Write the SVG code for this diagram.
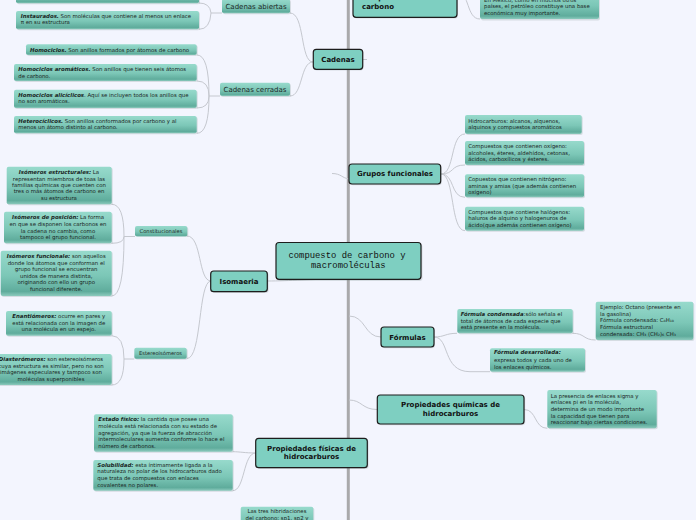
<svg xmlns="http://www.w3.org/2000/svg" width="696" height="520" viewBox="0 0 696 520">
<defs>
<linearGradient id="lg" x1="0" y1="0" x2="0" y2="1">
<stop offset="0" stop-color="#97dacc"/>
<stop offset="0.55" stop-color="#7cc7b7"/>
<stop offset="0.9" stop-color="#5fac9c"/>
<stop offset="1" stop-color="#8ccabd"/>
</linearGradient>
<style>
.lf{fill:url(#lg);}
.sh{fill:#6f8280;opacity:.22;}
.mn{fill:#7ecfc1;stroke:#1d1d1d;stroke-width:1.2;}
.t{font-family:"DejaVu Sans",Verdana,sans-serif;font-size:5.4px;fill:#1a2624;}
.b{font-weight:bold;font-style:italic;}
.m{font-family:"DejaVu Sans",Verdana,sans-serif;font-size:7px;font-weight:bold;fill:#111;}
.s{font-family:"DejaVu Sans",Verdana,sans-serif;font-size:7px;fill:#1d2a28;}
.ss{font-size:5.2px;}
.mid{text-anchor:middle;}
.c{fill:none;stroke:#c5c8cf;stroke-width:1;}
.tr{fill:none;stroke:#a9a9ab;stroke-width:3;}
</style>
</defs>
<rect x="0" y="0" width="696" height="520" fill="#f3f5fe"/>

<g id="connectors">
<line class="tr" x1="348.3" y1="0" x2="348.3" y2="520"/>
<path class="c" d="M457,-8 C470,-8 466,19 480,19"/>
<path class="c" d="M362,59.5 L367,59.5"/>
<path class="c" d="M313,62 C300,62 305,13 290,13"/>
<path class="c" d="M313,62 C300,62 303,96 290,96"/>
<path class="c" d="M222,13 L211,13 M199,3 Q210,3 211,13 M199,29.3 Q210,29.3 211,13"/>
<path class="c" d="M220,96 L209,96 M197,55 Q209,55 209,96 M197,81 Q209,81 209,96 M197,108 Q209,108 209,96 M197,133.3 Q209,133.3 209,96"/>
<path class="c" d="M332,173.5 C341,173.5 342,178 349,179"/>
<path class="c" d="M441,174 C455,174 450,134 465,134 M441,174 C455,174 450,165 465,165 M441,174 C455,174 450,197.3 465,197.3 M441,174 C455,174 450,230.7 465,230.7"/>
<path class="c" d="M267,281 C290,281 310,279 348,279"/>
<path class="c" d="M211,281 C198,281 202,236 187,236"/>
<path class="c" d="M211,281 C198,281 202,358.5 187,358.5"/>
<path class="c" d="M135,236.5 L124,236.5 M111.7,204.3 Q124,204.3 124,236.5 M111.7,243.3 Q124,243.3 124,236.5 M111.7,296 Q124,296 124,236.5"/>
<path class="c" d="M134.3,359 L124,359 M111.7,335.7 Q124,335.7 124,359 M111.7,385 Q124,385 124,359"/>
<path class="c" d="M349,316 C366,316 364,337 381,337"/>
<path class="c" d="M434,337 C445,337 445,333.3 457,333.3"/>
<path class="c" d="M434,337 C450,337 442,371.7 470,371.7 L490,371.7"/>
<path class="c" d="M572.7,333.3 C585,333.3 583,340 595.7,340"/>
<path class="c" d="M349,400 C362,400 362,409.5 377,409.5"/>
<path class="c" d="M524,409.5 C537,409.5 534,428.3 547.3,428.3"/>
<path class="c" d="M255.7,453 C245,453 240,451.7 232.7,451.7 M232.7,490.7 C245,490.7 243,453 255.7,453"/>
</g>

<g id="n-compuestos-carbono">
<rect class="sh" x="354" y="-12" width="104" height="30.5" rx="3"/>
<rect class="mn" x="353" y="-13" width="104" height="30.3" rx="3"/>
<text class="m" x="362" y="0.2">compuestos del</text>
<text class="m" x="362" y="8.8">carbono</text>
</g>

<g id="n-mexico">
<rect class="sh" x="481" y="-10" width="119" height="30.5" rx="2"/>
<rect class="lf" x="480" y="-11" width="119" height="30" rx="2"/>
<text class="t" x="484" y="1.6">En México, como en muchos otros</text>
<text class="t" x="484" y="8.2">países, el petróleo constituye una base</text>
<text class="t" x="484" y="15">económica muy importante.</text>
</g>

<g id="n-cadenas">
<rect class="sh" x="314" y="50.5" width="49.5" height="20" rx="3"/>
<rect class="mn" x="313.3" y="49.3" width="49.4" height="20" rx="3"/>
<text class="m mid" x="338" y="62">Cadenas</text>
</g>

<g id="n-cadenas-abiertas">
<rect class="sh" x="223" y="0" width="68" height="14.3" rx="2"/>
<rect class="lf" x="222" y="-1" width="68" height="14.3" rx="2"/>
<text class="s mid" x="256" y="9.3">Cadenas abiertas</text>
</g>

<g id="n-saturados">
<rect class="sh" x="17" y="-10" width="183" height="14.3" rx="2"/>
<rect class="lf" x="16" y="-11" width="183" height="14.3" rx="2"/>
</g>

<g id="n-instaurados">
<rect class="sh" x="17" y="12" width="183" height="18.3" rx="2"/>
<rect class="lf" x="16" y="11" width="183" height="18.3" rx="2"/>
<text class="t" x="20.7" y="17.6"><tspan class="b">Instaurados.</tspan> Son moléculas que contiene al menos un enlace</text>
<text class="t" x="20.7" y="24.3">π en su estructura</text>
</g>

<g id="n-cadenas-cerradas">
<rect class="sh" x="221" y="83.7" width="70" height="13.3" rx="2"/>
<rect class="lf" x="220" y="82.7" width="70" height="13.3" rx="2"/>
<text class="s mid" x="255" y="91.6">Cadenas cerradas</text>
</g>

<g id="n-homociclos">
<rect class="sh" x="27" y="45.3" width="170.7" height="10.7" rx="2"/>
<rect class="lf" x="26" y="44.3" width="170.7" height="10.7" rx="2"/>
<text class="t" x="30" y="51.7"><tspan class="b">Homociclos.</tspan> Son anillos formados por átomos de carbono</text>
</g>

<g id="n-homociclos-aromaticos">
<rect class="sh" x="15" y="65" width="182.7" height="17" rx="2"/>
<rect class="lf" x="14" y="64" width="182.7" height="17" rx="2"/>
<text class="t" x="18.3" y="71.3"><tspan class="b">Homociclos aromáticos.</tspan> Son anillos que tienen seis átomos</text>
<text class="t" x="18.3" y="77.6">de carbono.</text>
</g>

<g id="n-homociclos-aliciclicos">
<rect class="sh" x="15" y="90.7" width="182.7" height="18.3" rx="2"/>
<rect class="lf" x="14" y="89.7" width="182.7" height="18.3" rx="2"/>
<text class="t" x="18.3" y="97"><tspan class="b">Homociclos alicíclicos</tspan>. Aquí se incluyen todos los anillos que</text>
<text class="t" x="18.3" y="103.4">no son aromáticos.</text>
</g>

<g id="n-heterociclicos">
<rect class="sh" x="15" y="117" width="182.7" height="17.3" rx="2"/>
<rect class="lf" x="14" y="116" width="182.7" height="17.3" rx="2"/>
<text class="t" x="18.3" y="123"><tspan class="b">Heterocíclicos.</tspan> Son anillos conformados por carbono y al</text>
<text class="t" x="18.3" y="129.3">menos un átomo distinto al carbono.</text>
</g>

<g id="n-grupos-funcionales">
<rect class="sh" x="350" y="165.2" width="91.7" height="20" rx="3"/>
<rect class="mn" x="349" y="164" width="91.7" height="20" rx="3"/>
<text class="m mid" x="395" y="176.4">Grupos funcionales</text>
</g>

<g id="n-hidrocarburos">
<rect class="sh" x="466" y="116" width="116.7" height="19" rx="2"/>
<rect class="lf" x="465" y="115" width="116.7" height="19" rx="2"/>
<text class="t" x="468.3" y="122.7">Hidrocarburos: alcanos, alquenos,</text>
<text class="t" x="468.3" y="129.2">alquinos y compuestos aromáticos</text>
</g>

<g id="n-oxigeno">
<rect class="sh" x="466" y="142" width="119" height="24" rx="2"/>
<rect class="lf" x="465" y="141" width="119" height="24" rx="2"/>
<text class="t" x="468.3" y="147.9">Compuestos que contienen oxígeno:</text>
<text class="t" x="468.3" y="154.5">alcoholes, éteres, aldehídos, cetonas,</text>
<text class="t" x="468.3" y="161.3">ácidos, carboxílicos y ésteres.</text>
</g>

<g id="n-nitrogeno">
<rect class="sh" x="466" y="175.3" width="119" height="23" rx="2"/>
<rect class="lf" x="465" y="174.3" width="119" height="23" rx="2"/>
<text class="t" x="468.3" y="181.2">Copuestos que contienen nitrógeno:</text>
<text class="t" x="468.3" y="187.7">aminas y amias (que además contienen</text>
<text class="t" x="468.3" y="194.2">oxígeno)</text>
</g>

<g id="n-halogenos">
<rect class="sh" x="466" y="207.7" width="119" height="24" rx="2"/>
<rect class="lf" x="465" y="206.7" width="119" height="24" rx="2"/>
<text class="t" x="468.3" y="213.5">Compuestos que contiene halógenos:</text>
<text class="t" x="468.3" y="220.1">haluros de alquino y halogenuros de</text>
<text class="t" x="468.3" y="226.7">ácido(que además contienen oxígeno)</text>
</g>

<g id="n-central">
<rect class="sh" x="277.5" y="244" width="145" height="37" rx="3"/>
<rect class="mn" x="276" y="242.5" width="145" height="36.8" rx="3"/>
<text class="mid" x="347" y="257.5" font-family="'Liberation Mono','DejaVu Sans Mono',monospace" font-size="8.9" fill="#111">compuesto de carbono y</text>
<text class="mid" x="348.3" y="267.8" font-family="'Liberation Mono','DejaVu Sans Mono',monospace" font-size="8.9" fill="#111">macromoléculas</text>
</g>

<g id="n-isomaeria">
<rect class="sh" x="212" y="272.2" width="56.6" height="20.7" rx="3"/>
<rect class="mn" x="210.7" y="271" width="56.6" height="20.7" rx="3"/>
<text class="m mid" x="239" y="284">Isomaeria</text>
</g>

<g id="n-constitucionales">
<rect class="sh" x="136" y="227" width="52.3" height="10" rx="2"/>
<rect class="lf" x="135" y="226" width="52.3" height="10.5" rx="2"/>
<text class="s ss mid" x="161" y="233.3">Constitucionales</text>
</g>

<g id="n-estructurales">
<rect class="sh" x="7.7" y="167.7" width="105" height="37.6" rx="2"/>
<rect class="lf" x="6.7" y="166.7" width="105" height="37.6" rx="2"/>
<text class="t mid" x="59" y="174.3"><tspan class="b">Isómeros estructurales:</tspan> La</text>
<text class="t mid" x="59" y="180.7">representan miembros de toas las</text>
<text class="t mid" x="59" y="187">familias químicas que cuenten con</text>
<text class="t mid" x="59" y="193.4">tres o más átomos de carbono en</text>
<text class="t mid" x="59" y="199.9">su estructura</text>
</g>

<g id="n-posicion">
<rect class="sh" x="5" y="212.7" width="107.7" height="31.6" rx="2"/>
<rect class="lf" x="4" y="211.7" width="107.7" height="31.6" rx="2"/>
<text class="t mid" x="58" y="219.3"><tspan class="b">Isómeros de posición:</tspan> La forma</text>
<text class="t mid" x="58" y="226">en que se disponen los carbonos en</text>
<text class="t mid" x="58" y="232.5">la cadena no cambia, como</text>
<text class="t mid" x="58" y="239.2">tampoco el grupo funcional.</text>
</g>

<g id="n-funcionales">
<rect class="sh" x="1.7" y="251.7" width="111" height="45.3" rx="2"/>
<rect class="lf" x="0.7" y="250.7" width="111" height="45.3" rx="2"/>
<text class="t mid" x="56.2" y="258"><tspan class="b">Isómeros funcionale:</tspan> son aquellos</text>
<text class="t mid" x="56.2" y="264.7">donde los átomos que conforman el</text>
<text class="t mid" x="56.2" y="271.3">grupo funcional se encuentran</text>
<text class="t mid" x="56.2" y="278">unidos de manera distinta,</text>
<text class="t mid" x="56.2" y="284.4">originando con ello un grupo</text>
<text class="t mid" x="56.2" y="291">funcional diferente.</text>
</g>

<g id="n-estereoisomeros">
<rect class="sh" x="135.3" y="348.7" width="52.4" height="11" rx="2"/>
<rect class="lf" x="134.3" y="347.7" width="52.4" height="11.3" rx="2"/>
<text class="s ss mid" x="160.5" y="355.3">Estereoisómeros</text>
</g>

<g id="n-enantiomeros">
<rect class="sh" x="7" y="312" width="105.7" height="24.7" rx="2"/>
<rect class="lf" x="6" y="311" width="105.7" height="24.7" rx="2"/>
<text class="t mid" x="58.8" y="318.3"><tspan class="b">Enantiómeros:</tspan> ocurre en pares y</text>
<text class="t mid" x="58.8" y="325">está relacionada con la imagen de</text>
<text class="t mid" x="58.8" y="331.4">una molécula en un espejo.</text>
</g>

<g id="n-diasteromeros">
<rect class="sh" x="-9" y="355" width="121.7" height="31" rx="2"/>
<rect class="lf" x="-10" y="354" width="121.7" height="31" rx="2"/>
<text class="t mid" x="51" y="361.3"><tspan class="b">Diasterómeros:</tspan> son estereoisómeros</text>
<text class="t mid" x="51" y="367.7">cuya estructura es similar, pero no son</text>
<text class="t mid" x="51" y="374.1">imágenes especulares y tampoco son</text>
<text class="t mid" x="51" y="380.7">moléculas superponibles</text>
</g>

<g id="n-formulas">
<rect class="sh" x="382" y="328.2" width="53" height="20" rx="3"/>
<rect class="mn" x="381" y="327" width="53" height="20" rx="3"/>
<text class="m mid" x="407.5" y="339.5">Fórmulas</text>
</g>

<g id="n-condensada">
<rect class="sh" x="458.3" y="310" width="115.4" height="24.3" rx="2"/>
<rect class="lf" x="457.3" y="309" width="115.4" height="24.3" rx="2"/>
<text class="t" x="460.7" y="316"><tspan class="b">Fórmula condensada</tspan>:sólo señala el</text>
<text class="t" x="460.7" y="322.5">total de átomos de cada especie que</text>
<text class="t" x="460.7" y="329.3">está presente en la molécula.</text>
</g>

<g id="n-ejemplo">
<rect class="sh" x="596.7" y="302.7" width="97.6" height="38.3" rx="2"/>
<rect class="lf" x="595.7" y="301.7" width="97.6" height="38.3" rx="2"/>
<text class="t" x="600" y="309.2">Ejemplo: Octano (presente en</text>
<text class="t" x="600" y="315.5">la gasolina)</text>
<text class="t" x="600" y="322.4">Fórmula condensada: C₈H₁₈</text>
<text class="t" x="600" y="328.8">Fórmula estructural</text>
<text class="t" x="600" y="335.7">condensada: CH₃ (CH₂)₆ CH₃</text>
</g>

<g id="n-desarrollada">
<rect class="sh" x="491" y="349.3" width="95" height="23.4" rx="2"/>
<rect class="lf" x="490" y="348.3" width="95" height="23.4" rx="2"/>
<text class="t" x="494" y="354.4"><tspan class="b">Fórmula desarrollada:</tspan></text>
<text class="t" x="494" y="362">expresa todos y cada uno de</text>
<text class="t" x="494" y="368.7">los enlaces químicos.</text>
</g>

<g id="n-prop-quimicas">
<rect class="sh" x="378.5" y="396.2" width="146.7" height="29" rx="3"/>
<rect class="mn" x="377.3" y="395" width="146.7" height="29" rx="3"/>
<text class="m mid" x="450.5" y="407.3">Propiedades químicas de</text>
<text class="m mid" x="450.5" y="415.8">hidrocarburos</text>
</g>

<g id="n-enlaces">
<rect class="sh" x="548.3" y="391" width="109.4" height="38.3" rx="2"/>
<rect class="lf" x="547.3" y="390" width="109.4" height="38.3" rx="2"/>
<text class="t" x="550.7" y="397.7">La presencia de enlaces sigma y</text>
<text class="t" x="550.7" y="404.3">enlaces pi en la molécula,</text>
<text class="t" x="550.7" y="411">determina de un modo importante</text>
<text class="t" x="550.7" y="417.7">la capacidad que tienen para</text>
<text class="t" x="550.7" y="424.3">reaccionar bajo ciertas condiciones.</text>
</g>

<g id="n-prop-fisicas">
<rect class="sh" x="257" y="439.5" width="111.6" height="29.4" rx="3"/>
<rect class="mn" x="255.7" y="438.3" width="111.6" height="29.4" rx="3"/>
<text class="m mid" x="311.5" y="451">Propiedades físicas de</text>
<text class="m mid" x="311.5" y="459.4">hidrocarburos</text>
</g>

<g id="n-estado-fisico">
<rect class="sh" x="95" y="415.3" width="138.7" height="37.4" rx="2"/>
<rect class="lf" x="94" y="414.3" width="138.7" height="37.4" rx="2"/>
<text class="t" x="98.3" y="421.3"><tspan class="b">Estado físico:</tspan> la cantida que posee una</text>
<text class="t" x="98.3" y="428">molécula está relacionada con su estado de</text>
<text class="t" x="98.3" y="434.7">agregación, ya que la fuerza de abracción</text>
<text class="t" x="98.3" y="441.3">intermoleculares aumenta conforme lo hace el</text>
<text class="t" x="98.3" y="447.8">número de carbonos.</text>
</g>

<g id="n-solubilidad">
<rect class="sh" x="94.3" y="461" width="139.4" height="30.7" rx="2"/>
<rect class="lf" x="93.3" y="460" width="139.4" height="30.7" rx="2"/>
<text class="t" x="97.3" y="467"><tspan class="b">Solubilidad:</tspan> esta íntimamente ligada a la</text>
<text class="t" x="97.3" y="473.4">naturaleza no polar de los hidrocarburos dado</text>
<text class="t" x="97.3" y="480">que trata de compuestos con enlaces</text>
<text class="t" x="97.3" y="486.7">covalentes no polares.</text>
</g>

<g id="n-hibridaciones">
<rect class="sh" x="241.7" y="507.7" width="72.6" height="24" rx="2"/>
<rect class="lf" x="240.7" y="506.7" width="72.6" height="24" rx="2"/>
<text class="t mid" x="277" y="513.4">Las tres hibridaciones</text>
<text class="t mid" x="277" y="519.5">del carbono: sp1, sp2 y</text>
</g>
</svg>
